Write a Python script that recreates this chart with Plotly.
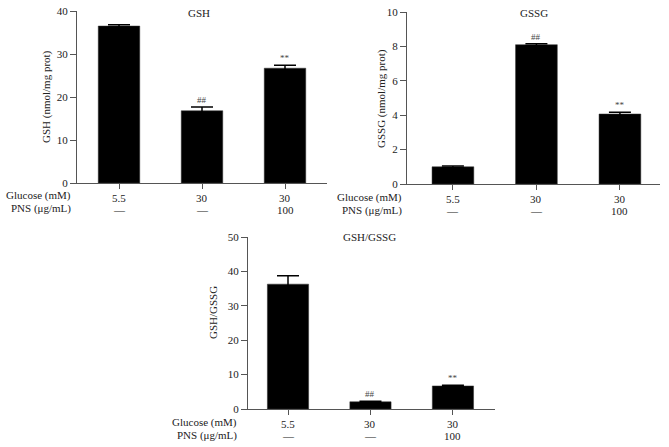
import plotly.graph_objects as go

W, H = 669, 447

groups = ["5.5", "30", "30"]
pns = ["\u2014", "\u2014", "100"]
row_labels = ["Glucose (mM)", "PNS (\u03bcg/mL)"]

panel_titles = ["GSH", "GSSG", "GSH/GSSG"]
y_titles = ["GSH (nmol/mg prot)", "GSSG (nmol/mg prot)", "GSH/GSSG"]

gsh_mean = [36.5, 16.8, 26.7]
gsh_err = [0.3, 0.9, 0.7]
gssg_mean = [1.0, 8.1, 4.07]
gssg_err = [0.05, 0.06, 0.1]
ratio_mean = [36.3, 2.1, 6.7]
ratio_err = [2.4, 0.15, 0.2]
marks = ["", "##", "**"]

y_ranges = [[0, 40], [0, 10], [0, 50]]
y_dticks = [10, 2, 10]

# pixel layout of each panel
panels = [
    dict(x0=77, x1=327, yt=11, yb=183, xr=[-0.506, 2.506], ytitle_x=47, ytitle_y=97, title=(199, 13), lab_dx=5),
    dict(x0=407, x1=660, yt=12, yb=184, xr=[-0.55, 2.48], ytitle_x=382, ytitle_y=98, title=(534, 13), lab_dx=4),
    dict(x0=248, x1=495, yt=237, yb=409, xr=[-0.485, 2.51], ytitle_x=213, ytitle_y=312, title=(369, 237), lab_dx=10),
]
means = [gsh_mean, gssg_mean, ratio_mean]
errs = [gsh_err, gssg_err, ratio_err]

FONT = "Liberation Serif"
TXT = "#222"
AX = "#555"


def ann(text, x, y, xref="paper", yref="paper", xanchor="center", yanchor="middle", size=11, **kw):
    return dict(text=text, x=x, y=y, xref=xref, yref=yref, xanchor=xanchor, yanchor=yanchor,
                showarrow=False, borderpad=0, font=dict(family=FONT, size=size, color=kw.pop("color", TXT)), **kw)


fig = go.Figure()
annotations = []
layout = {}
for i, p in enumerate(panels):
    sfx = "" if i == 0 else str(i + 1)
    xa, ya = "x" + sfx, "y" + sfx
    fig.add_trace(go.Bar(
        x=[0, 1, 2], y=means[i], width=0.5,
        marker=dict(color="black", line=dict(color="#333", width=0.5)),
        error_y=dict(type="data", array=errs[i], color="black", thickness=1.5, width=11),
        xaxis=xa, yaxis=ya, showlegend=False, hoverinfo="skip",
    ))
    layout["xaxis" + sfx] = dict(
        domain=[p["x0"] / W, p["x1"] / W], range=p["xr"], anchor=ya, automargin=False,
        tickvals=[0, 1, 2], showticklabels=False, ticks="outside", ticklen=5,
        tickcolor=AX, tickwidth=1, showline=True, linecolor=AX, linewidth=1.2,
        showgrid=False, zeroline=False, fixedrange=True,
    )
    layout["yaxis" + sfx] = dict(
        domain=[1 - p["yb"] / H, 1 - p["yt"] / H], range=y_ranges[i], anchor=xa, automargin=False,
        dtick=y_dticks[i], ticks="outside", ticklen=6, tickcolor=AX, tickwidth=1,
        showline=True, linecolor=AX, linewidth=1.2, showgrid=False, zeroline=False,
        tickfont=dict(family=FONT, size=11, color=TXT),
    )
    annotations.append(ann(panel_titles[i], p["title"][0] / W, 1 - p["title"][1] / H))
    annotations.append(ann(y_titles[i], p["ytitle_x"] / W, 1 - p["ytitle_y"] / H, textangle=-90))
    base = p["yb"]
    for r, lab in enumerate(row_labels):
        annotations.append(ann(lab, (p["x0"] - p["lab_dx"]) / W, 1 - (base + 13 + r * 13) / H,
                               xanchor="right"))
    for k in range(3):
        annotations.append(ann(groups[k], k, 1 - (base + 15) / H, xref=xa))
        annotations.append(ann(pns[k], k, 1 - (base + 27) / H, xref=xa))
        if marks[k]:
            annotations.append(ann(marks[k], k, means[i][k] + errs[i][k], xref=xa, yref=ya,
                                   yanchor="bottom", yshift=1, size=9, color="#444"))

fig.update_layout(
    template="none",
    width=W, height=H, margin=dict(l=0, r=0, t=0, b=0, autoexpand=False),
    paper_bgcolor="white", plot_bgcolor="white",
    annotations=annotations, **layout,
)
fig.write_html("out.html", config={"displayModeBar": False},
               post_script="document.body.style.margin='0';document.body.style.overflow='hidden';")
